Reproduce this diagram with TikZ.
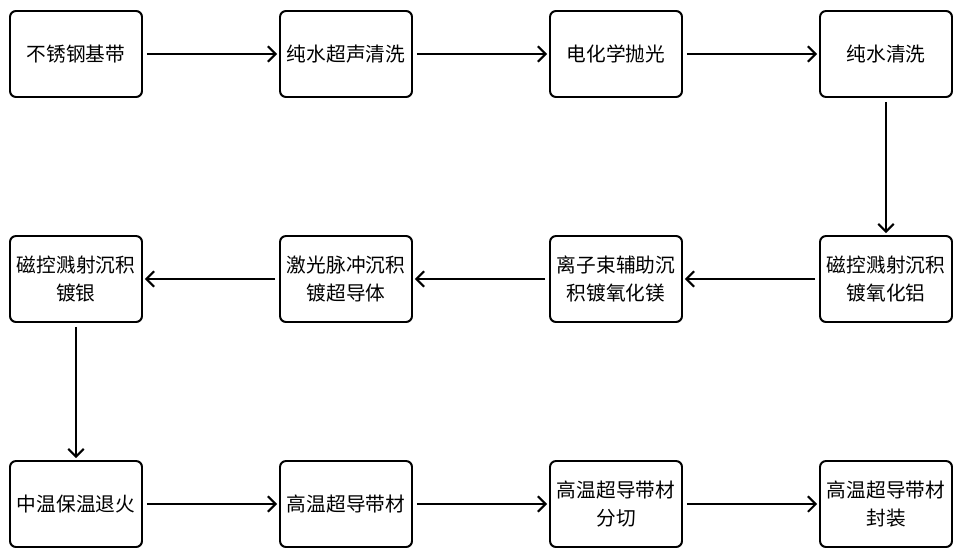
\documentclass[tikz,border=0pt]{standalone}
\usepackage{fontspec}
\newfontfamily\cjk{Noto Sans CJK SC}
\usepackage{tikz}
\usetikzlibrary{arrows.meta}

\begin{document}
\begin{tikzpicture}[
		stepbox/.style={draw, line width=1.4pt, rounded corners=0.15cm, minimum width=3.3cm, minimum height=2.15cm, align=center, font=\cjk\fontsize{14}{20}\selectfont},
		flow/.style={line width=1.4pt, -{Straight Barb[length=5.5pt, width=11pt, line width=1.4pt]}, shorten <=0.1cm, shorten >=0.05cm}
	]
	\useasboundingbox (0,0) rectangle (24.05,13.9);
	% first row
	\node[stepbox] (base) at (1.9,12.55) {不锈钢基带};
	\node[stepbox] (ultra) at (8.65,12.55) {纯水超声清洗};
	\node[stepbox] (polish) at (15.4,12.55) {电化学抛光};
	\node[stepbox] (rinse) at (22.15,12.55) {纯水清洗};
	% second row
	\node[stepbox] (alox) at (22.15,6.925) {磁控溅射沉积\\镀氧化铝};
	\node[stepbox] (mgo) at (15.4,6.925) {离子束辅助沉\\积镀氧化镁};
	\node[stepbox] (pld) at (8.65,6.925) {激光脉冲沉积\\镀超导体};
	\node[stepbox] (silver) at (1.9,6.925) {磁控溅射沉积\\镀银};
	% third row
	\node[stepbox] (anneal) at (1.9,1.3) {中温保温退火};
	\node[stepbox] (tape) at (8.65,1.3) {高温超导带材};
	\node[stepbox] (cut) at (15.4,1.3) {高温超导带材\\分切};
	\node[stepbox] (pack) at (22.15,1.3) {高温超导带材\\封装};

	\draw[flow] (base) -- (ultra);
	\draw[flow] (ultra) -- (polish);
	\draw[flow] (polish) -- (rinse);
	\draw[flow] (rinse) -- (alox);
	\draw[flow] (alox) -- (mgo);
	\draw[flow] (mgo) -- (pld);
	\draw[flow] (pld) -- (silver);
	\draw[flow] (silver) -- (anneal);
	\draw[flow] (anneal) -- (tape);
	\draw[flow] (tape) -- (cut);
	\draw[flow] (cut) -- (pack);
\end{tikzpicture}
\end{document}
